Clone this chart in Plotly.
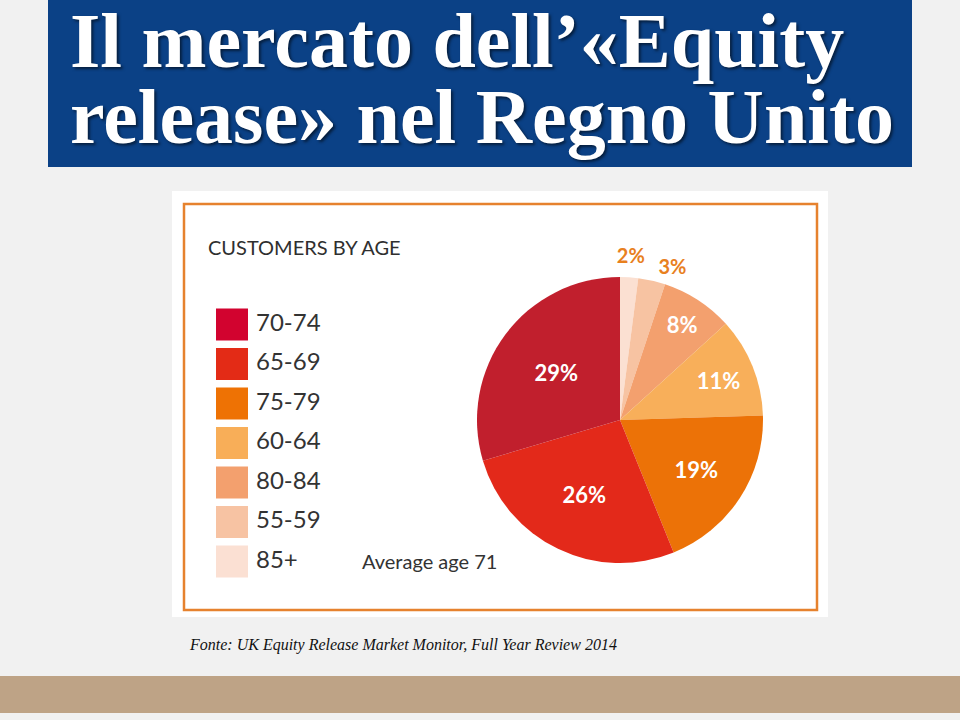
import plotly.graph_objects as go

# data: customers by age (UK equity release, 2014)
age_groups = ['70-74', '65-69', '75-79', '60-64', '80-84', '55-59', '85+']
shares = [29, 26, 19, 11, 8, 3, 2]
slice_colors = ['#c11f2d', '#e3291a', '#ec7207', '#f8af5a', '#f3a06e', '#f7c3a2', '#fbe0d2']
swatch_colors = ['#d2032f', '#e32b16', '#ee7204', '#f8ae58', '#f3a06e', '#f7c3a3', '#fbe0d3']

title_lines = ["Il mercato dell\u2019\u00abEquity", "release\u00bb nel Regno Unito"]
chart_heading = 'CUSTOMERS BY AGE'
avg_note = 'Average age 71'
source_note = 'Fonte: UK Equity Release Market Monitor, Full Year Review 2014'

W, H = 960, 720
sans = 'Lato, Open Sans, sans-serif'
serif = 'Liberation Serif, DejaVu Serif, serif'

# pie is drawn from 12 o'clock clockwise, i.e. the reverse of the legend order
p_labels = age_groups[::-1]
p_values = shares[::-1]
p_colors = slice_colors[::-1]
n = len(p_values)
cx, cy, r = 620, 420, 143


def dom(rad, dx=0):
    return dict(x=[(cx + dx - rad) / W, (cx + dx + rad) / W],
                y=[1 - (cy + rad) / H, 1 - (cy - rad) / H])


fig = go.Figure()

# main pie: big slices labelled inside
fig.add_trace(go.Pie(
    labels=p_labels,
    values=p_values,
    sort=False,
    direction='clockwise',
    rotation=0,
    marker=dict(colors=p_colors, line=dict(width=0)),
    texttemplate=['%{value}%' if v >= 5 else '' for v in p_values],
    textposition=['inside' if v >= 5 else 'none' for v in p_values],
    insidetextorientation='horizontal',
    insidetextfont=dict(family=sans, size=22, color='white', weight='bold'),
    domain=dom(r),
    showlegend=False,
    hoverinfo='label+percent',
))

# transparent twin pies, each carrying one outside label of a small slice
for idx, grow, dx in [(1, 3, 0), (0, 10, -19)]:
    fig.add_trace(go.Pie(
        labels=p_labels,
        values=p_values,
        sort=False,
        direction='clockwise',
        rotation=0,
        marker=dict(colors=['rgba(0,0,0,0)'] * n, line=dict(width=0)),
        texttemplate=['%{value}%' if i == idx else '' for i in range(n)],
        textposition=['outside' if i == idx else 'none' for i in range(n)],
        outsidetextfont=dict(family=sans, size=20, color='#e8801e', weight='bold'),
        domain=dom(r + grow, dx),
        showlegend=False,
        hoverinfo='skip',
    ))

# hand-made legend: swatches + labels
row_y = [324.5 + i * 39.5 for i in range(len(age_groups))]
fig.add_trace(go.Scatter(
    x=[232] * len(age_groups), y=row_y, mode='markers',
    marker=dict(symbol='square', size=32, color=swatch_colors, line=dict(width=0)),
    showlegend=False, hoverinfo='skip',
))
fig.add_trace(go.Scatter(
    x=[256] * len(age_groups), y=row_y, mode='text',
    text=age_groups, textposition='middle right',
    textfont=dict(family=sans, size=24, color='#333333'),
    showlegend=False, hoverinfo='skip',
))

shapes = [
    # title box
    dict(type='rect', xref='x', yref='y', x0=48, x1=912, y0=0, y1=167,
         fillcolor='#0b4186', line=dict(width=0), layer='below'),
    # white panel + orange frame
    dict(type='rect', xref='x', yref='y', x0=172, x1=828, y0=191, y1=617,
         fillcolor='#ffffff', line=dict(width=0), layer='below'),
    dict(type='rect', xref='x', yref='y', x0=184, x1=817, y0=204, y1=610,
         fillcolor='rgba(0,0,0,0)', line=dict(color='#e6822e', width=2.5), layer='below'),
    # tan footer bar
    dict(type='rect', xref='x', yref='y', x0=0, x1=960, y0=676, y1=713,
         fillcolor='#bea386', line=dict(width=0), layer='below'),
]

annotations = [
    dict(x=68, y=69, text=title_lines[0]),
    dict(x=68, y=145, text=title_lines[1]),
]
for a in annotations:
    a.update(xref='x', yref='y', xanchor='left', yanchor='bottom', showarrow=False,
             yshift=-17,
             font=dict(family=serif, size=78, color='white', weight='bold',
                       shadow='2px 2px 3px rgba(0,0,0,0.55)'))

annotations += [
    dict(x=206, y=247, text=chart_heading, xref='x', yref='y', xanchor='left',
         yanchor='middle', showarrow=False,
         font=dict(family=sans, size=20, color='#2f2f2f')),
    dict(x=360, y=561, text=avg_note, xref='x', yref='y', xanchor='left',
         yanchor='middle', showarrow=False,
         font=dict(family=sans, size=20, color='#333333')),
    dict(x=187, y=645, text=source_note, xref='x', yref='y', xanchor='left',
         yanchor='middle', showarrow=False,
         font=dict(family=serif, size=16, color='#111111', style='italic')),
]

fig.update_layout(
    width=W, height=H,
    margin=dict(l=0, r=0, t=0, b=0),
    paper_bgcolor='#f1f1f1',
    plot_bgcolor='rgba(0,0,0,0)',
    xaxis=dict(range=[0, W], visible=False, fixedrange=True),
    yaxis=dict(range=[H, 0], visible=False, fixedrange=True),
    shapes=shapes,
    annotations=annotations,
)

# drop the page's default body margin so the figure sits at the window's corner
fig.write_html("out.html", config={'displayModeBar': False},
               post_script="document.body.style.margin='0';")
